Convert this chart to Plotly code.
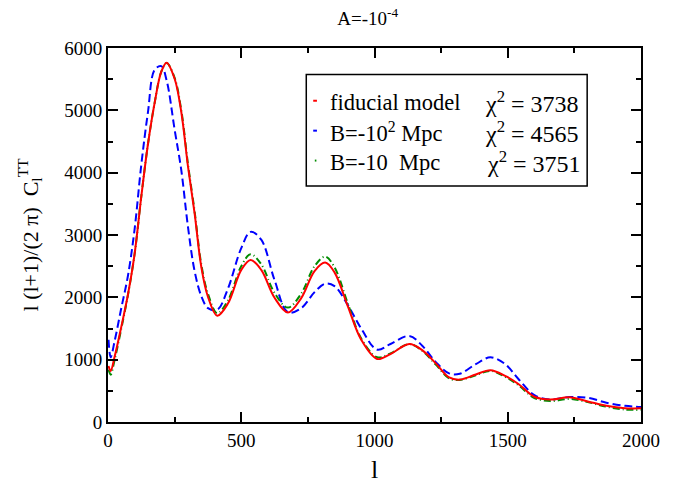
import plotly.graph_objects as go

ell = [2, 10, 25, 50, 75, 100, 125, 150, 175, 200, 220, 250, 275, 300, 325, 350, 375,
       410, 450, 500, 535, 575, 625, 675, 725, 775, 815, 850, 900, 950, 1010, 1060,
       1130, 1180, 1230, 1280, 1320, 1380, 1435, 1490, 1540, 1600, 1660, 1730, 1800,
       1870, 1940, 2000]

fiducial = [900, 820, 1050, 1530, 2050, 2700, 3620, 4460, 5120, 5620, 5765, 5507, 4973,
            4105, 3347, 2490, 2010, 1705, 1900, 2440, 2600, 2440, 1993, 1757, 1987, 2421,
            2557, 2400, 1856, 1320, 1011, 1090, 1251, 1150, 940, 715, 680, 762, 829, 740,
            610, 405, 360, 397, 330, 260, 222, 220]

b_minus_100 = [1320, 1040, 1300, 1830, 2350, 3100, 4130, 4973, 5650, 5710, 5480, 4690,
               4040, 3133, 2420, 2020, 1827, 1800, 2139, 2790, 3050, 2925, 2276, 1760,
               1827, 2083, 2220, 2180, 1876, 1500, 1160, 1252, 1380, 1220, 960, 780, 775,
               928, 1037, 930, 690, 430, 360, 400, 390, 310, 260, 240]

b_minus_10 = [840, 760, 1000, 1500, 2040, 2700, 3620, 4460, 5120, 5620, 5760, 5520, 5000,
              4140, 3380, 2530, 2060, 1745, 1950, 2500, 2690, 2530, 2070, 1835, 2060, 2500,
              2655, 2480, 1900, 1340, 1040, 1100, 1250, 1140, 920, 700, 675, 750, 820, 725,
              590, 385, 335, 370, 320, 245, 200, 195]

legend_names = ["fiducial model", "B=-10<sup>2</sup> Mpc", "B=-10&nbsp; Mpc"]
chi2_values = [3738, 4565, 3751]
colors = ["#ff0000", "#0000ff", "#008c00"]
dashes = ["solid", "8px,4px", "7px,3px,1px,3px"]

FONT = "Liberation Serif"

fig = go.Figure()
for vals, col, dsh, name in zip([b_minus_100, b_minus_10, fiducial],
                                [colors[1], colors[2], colors[0]],
                                [dashes[1], dashes[2], dashes[0]],
                                [legend_names[1], legend_names[2], legend_names[0]]):
    fig.add_trace(go.Scatter(x=ell, y=vals, mode="lines", name=name,
                             line=dict(color=col, width=2, dash=dsh, shape="spline", smoothing=1.0),
                             showlegend=False))

axis_common = dict(showline=True, linewidth=2, linecolor="black", mirror="ticks",
                   ticks="inside", ticklen=10, tickwidth=1.5, tickcolor="black",
                   showgrid=False, zeroline=False, automargin=False,
                   tickfont=dict(family=FONT, size=19, color="black"))

fig.update_xaxes(range=[0, 2000], dtick=500, tick0=0,
                 minor=dict(ticks="inside", ticklen=5, dtick=250, tickcolor="black", tickwidth=1.5),
                 title=dict(text="l", font=dict(family=FONT, size=26, color="black"), standoff=12),
                 **axis_common)
fig.update_yaxes(range=[0, 6000], dtick=1000, tick0=0,
                 minor=dict(ticks="inside", ticklen=5, dtick=500, tickcolor="black", tickwidth=1.5),
                 title=dict(text="l (l+1)/(2 π)  C<sub>l</sub><sup>TT</sup>",
                            font=dict(family=FONT, size=22, color="black"), standoff=20),
                 **axis_common)

# legend box
fig.add_shape(type="rect", xref="paper", yref="paper", x0=0.372, x1=0.899, y0=0.631, y1=0.929,
              line=dict(color="black", width=1.5), fillcolor="white", layer="above")
rows_y = [0.855, 0.775, 0.695]
for i in range(3):
    if i < 2:
        fig.add_shape(type="line", xref="paper", yref="paper", x0=0.385, x1=0.392,
                      y0=rows_y[i] + 0.004, y1=rows_y[i] + 0.004,
                      line=dict(color=colors[i], width=2), layer="above")
    else:
        fig.add_shape(type="line", xref="paper", yref="paper", x0=0.388, x1=0.391,
                      y0=rows_y[i] + 0.004, y1=rows_y[i] + 0.004,
                      line=dict(color=colors[i], width=2), layer="above")
    fig.add_annotation(xref="paper", yref="paper", x=0.412, y=rows_y[i], xanchor="left",
                       yanchor="middle", text=legend_names[i], showarrow=False,
                       font=dict(family=FONT, size=22.5, color="black"))
    fig.add_annotation(xref="paper", yref="paper", x=0.703 if i < 2 else 0.708, y=rows_y[i],
                       xanchor="left", yanchor="middle",
                       text="χ<sup>2</sup> = %d" % chi2_values[i], showarrow=False,
                       font=dict(family=FONT, size=24, color="black"))

fig.update_layout(
    width=681, height=484,
    margin=dict(l=108, r=40, t=48, b=62, autoexpand=False),
    paper_bgcolor="white", plot_bgcolor="white",
    font=dict(family=FONT, color="black"),
    title=dict(text="A=-10<sup>-4</sup>", x=0.54, xanchor="center", y=0.962, yanchor="middle",
               font=dict(family=FONT, size=19, color="black")),
    showlegend=False,
)

fig.write_html("out.html", config={"displayModeBar": False},
               post_script="document.body.style.margin='0';document.body.style.padding='0';")
